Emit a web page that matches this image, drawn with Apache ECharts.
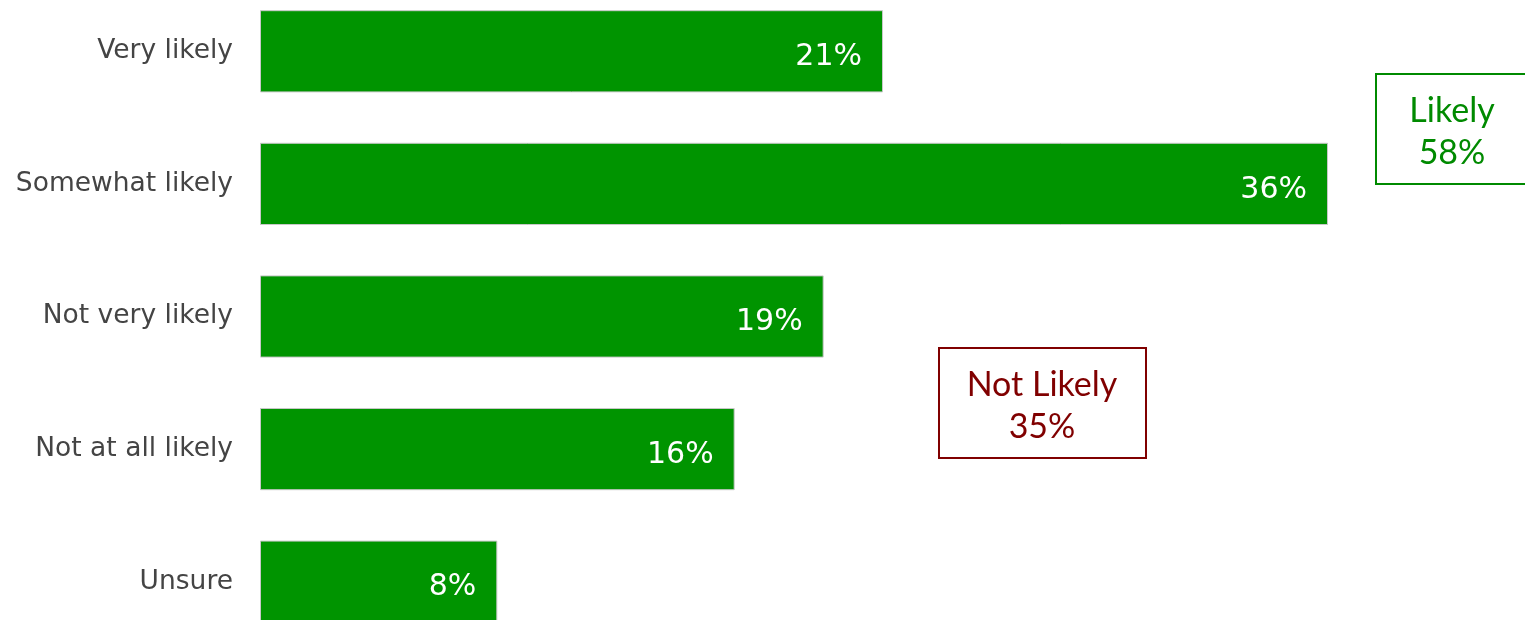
<!DOCTYPE html>
<html>
<head>
<meta charset="utf-8">
<script src="https://cdn.jsdelivr.net/npm/echarts@6/dist/echarts.min.js"></script>
<style>
html,body{margin:0;padding:0;background:#fff;}
#chart{width:1525px;height:620px;}
</style>
</head>
<body>
<div id="chart"></div>
<script>
const categories = ['Very likely', 'Somewhat likely', 'Not very likely', 'Not at all likely', 'Unsure'];
const values = [21, 36, 19, 16, 8];
const likelyLabel = ['Likely', '58%'];
const notLikelyLabel = ['Not Likely', '35%'];

const chart = echarts.init(document.getElementById('chart'));
chart.setOption({
  animation: false,
  grid: { left: 260, right: 197, top: -15, height: 663, containLabel: false, outerBoundsMode: 'none' },
  xAxis: { type: 'value', min: 0, max: 'dataMax', show: false },
  yAxis: {
    type: 'category', data: categories, inverse: true,
    axisLine: { show: false }, axisTick: { show: false },
    axisLabel: { color: '#444', fontFamily: 'DejaVu Sans', fontSize: 26.5, margin: 27 }
  },
  series: [{
    type: 'bar', data: values, barWidth: '62%',
    itemStyle: { color: '#009400', borderColor: '#c8c8c8', borderWidth: 1 },
    label: {
      show: true, position: 'insideRight', distance: 21,
      color: '#fff', fontFamily: 'DejaVu Sans', fontSize: 30,
      formatter: p => p.value + '%', offset: [0, 6]
    }
  }],
  graphic: [
    { type: 'rect', shape: { x: 1376, y: 74, width: 160, height: 110 },
      style: { fill: '#fff', stroke: '#008a00', lineWidth: 2 } },
    { type: 'text', x: 1452, y: 132, style: { text: likelyLabel.join('\n'), fill: '#008a00',
      font: '34px Lato', align: 'center', verticalAlign: 'middle', lineHeight: 42 } },
    { type: 'rect', shape: { x: 939, y: 348, width: 207, height: 110 },
      style: { fill: '#fff', stroke: '#800000', lineWidth: 2 } },
    { type: 'text', x: 1042, y: 406, style: { text: notLikelyLabel.join('\n'), fill: '#800000',
      font: '34px Lato', align: 'center', verticalAlign: 'middle', lineHeight: 42 } }
  ]
});
</script>
</body>
</html>
